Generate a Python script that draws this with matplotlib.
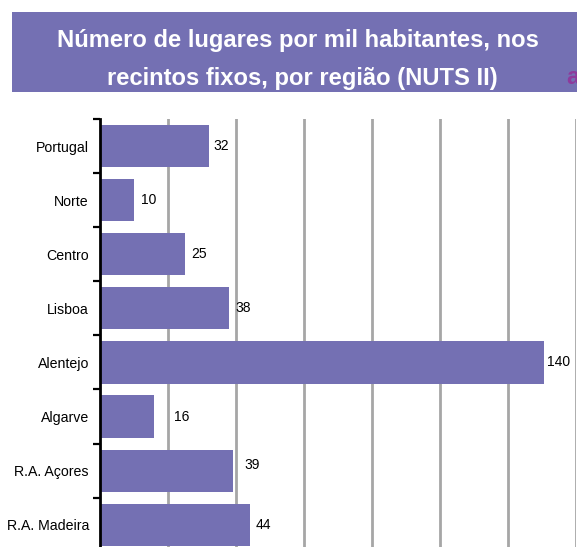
import matplotlib
matplotlib.use("Agg")
import matplotlib.pyplot as plt
from matplotlib.patches import Rectangle

# Data
categories = ["Portugal", "Norte", "Centro", "Lisboa", "Alentejo", "Algarve",
              "R.A. Açores", "R.A. Madeira"]
values = [32, 10, 25, 38, 140, 16, 39, 44]
# bar lengths as drawn in the picture (Alentejo bar is drawn shorter than its label)
bar_lengths = [32, 10, 25, 38, 130.5, 16, 39, 44]
value_labels = ["32", "10", "25", "38", "140", "16", "39", "44"]
title_line1 = "Número de lugares por mil habitantes, nos"
title_line2 = "recintos fixos, por região (NUTS II)"

# Label nudges (pixels)
label_dx = [5, 7, 6, 6, 3, 20, 12, 6]
label_dy = [0, 0, 0, 0, 0, 0, 6, 0]

plt.rcParams['font.family'] = ['Liberation Sans', 'DejaVu Sans']

W, H = 577, 547
dpi = 100
fig = plt.figure(figsize=(W / dpi, H / dpi), dpi=dpi)
fig.patch.set_facecolor("white")

bar_color = "#7470B3"

# Title box
fig.patches.append(Rectangle((12 / W, 1 - 92 / H), (W - 12) / W + 0.01, 80 / H,
                             transform=fig.transFigure, facecolor=bar_color,
                             edgecolor="none", zorder=0))
fig.text(298 / W, 1 - 40 / H, title_line1, color="white", fontsize=17.1,
         fontweight="bold", ha="center", va="center")
fig.text(302 / W, 1 - 78 / H, title_line2, color="white", fontsize=17.1,
         fontweight="bold", ha="center", va="center")
fig.text(566 / W, 1 - 78 / H, "a", color="#8E3A9C", fontsize=17.1,
         fontweight="bold", ha="left", va="center")

# Axes
top_px = 119
row_px = 54.1
n = len(categories)
bottom_px = top_px + n * row_px
left_px, right_px = 100, 576
ax = fig.add_axes([left_px / W, 1 - bottom_px / H, (right_px - left_px) / W,
                   (bottom_px - top_px) / H])

y = list(range(n))
ax.barh(y, bar_lengths, height=0.78, color=bar_color, zorder=3)
ax.set_xlim(0, 140)
ax.set_ylim(n - 0.5, -0.5)

ax.set_xticks([20, 40, 60, 80, 100, 120, 140])
ax.xaxis.grid(True, color="#A6A6A6", linewidth=2, zorder=1)
ax.tick_params(axis="x", length=0, labelbottom=False)

ax.set_yticks(y)
ax.set_yticklabels(categories, fontsize=10.2)
ax.tick_params(axis="y", which="major", length=0, pad=8)
ax.set_yticks([i - 0.5 for i in range(n + 1)], minor=True)
ax.tick_params(axis="y", which="minor", length=5, width=1.6, direction="out",
               color="black")

for s in ["top", "right", "bottom"]:
    ax.spines[s].set_visible(False)
ax.spines["left"].set_linewidth(2)
ax.spines["left"].set_color("black")
ax.spines["left"].set_zorder(4)

for i, (b, lab) in enumerate(zip(bar_lengths, value_labels)):
    ax.annotate(lab, xy=(b, i), xytext=(label_dx[i] * 0.72, label_dy[i] * 0.72),
                textcoords="offset points", ha="left", va="center",
                fontsize=10, color="black", annotation_clip=False, zorder=5)

fig.savefig("out.png", dpi=dpi)
